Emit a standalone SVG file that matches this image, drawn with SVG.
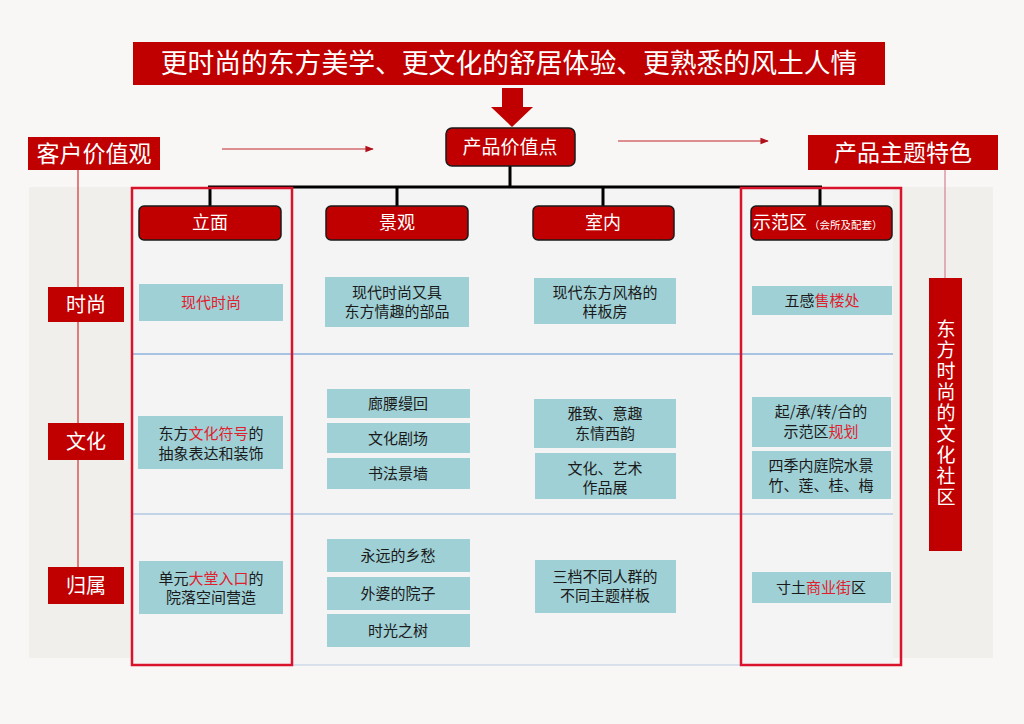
<svg xmlns="http://www.w3.org/2000/svg" width="1024" height="724" viewBox="0 0 1024 724">
<defs>
<style>
text{font-family:"Noto Sans CJK SC","Noto Sans",sans-serif;}
.red{fill:#c00000;}
.w{fill:#ffffff;text-anchor:middle;}
.hdr{fill:#c00000;stroke:#1a1a1a;stroke-width:1.5;}
.cell{fill:#9fd0d5;}
.ct{fill:#1a1a1a;font-size:15px;text-anchor:middle;}
.hl{fill:#e0202e;}
.outline{fill:none;stroke:#d9132b;stroke-width:2.5;}
.conn{fill:none;stroke:#000;stroke-width:3;}
.thin{fill:none;stroke:#c0272d;stroke-width:1.2;}
</style>
<marker id="ah" viewBox="0 0 10 10" refX="9" refY="5" markerWidth="7" markerHeight="7" orient="auto">
<path d="M0,1 L10,5 L0,9 z" fill="#b0101a"/>
</marker>
</defs>
<rect x="0" y="0" width="1024" height="724" fill="#f8f7f5"/>
<rect x="29" y="187" width="964" height="471" fill="#f1efeb"/>
<rect x="131" y="188" width="762" height="477" fill="#f4f4f4"/>
<!-- row separators -->
<g id="separators">
<line x1="131" y1="354" x2="893" y2="354" stroke="#5b8fd0" stroke-width="1.2"/>
<line x1="131" y1="514" x2="893" y2="514" stroke="#8fb2dc" stroke-width="1.2"/>
<line x1="131" y1="665" x2="893" y2="665" stroke="#b8cce4" stroke-width="1.2"/>
</g>
<!-- title -->
<g id="title">
<rect x="133" y="42" width="752" height="43" class="red"/>
<text x="509" y="73" class="w" font-size="26.8">更时尚的东方美学、更文化的舒居体验、更熟悉的风土人情</text>
</g>
<g id="bigarrow">
<path d="M502,88 L523,88 L523,107 L533,107 L512,127 L491,107 L502,107 z" fill="#c00000"/>
</g>
<g id="connectors">
<line x1="222" y1="149" x2="373" y2="149" class="thin" marker-end="url(#ah)"/>
<line x1="618" y1="141" x2="768" y2="141" class="thin" marker-end="url(#ah)"/>
<line x1="78" y1="170" x2="78" y2="567" stroke="#d03030" stroke-width="1.2"/>
<line x1="945" y1="170" x2="945" y2="278" stroke="#d88090" stroke-width="1.2"/>
<path d="M510,166 L510,187 M208,187 L822,187 M210,187 L210,206 M397,187 L397,206 M603,187 L603,206 M820,187 L820,206" class="conn"/>
</g>
<g id="value-point">
<rect x="446" y="128" width="129" height="38" rx="6" class="hdr"/>
<text x="510" y="154" class="w" font-size="19">产品价值点</text>
</g>
<g id="customer">
<rect x="28" y="137" width="132" height="33" class="red"/>
<text x="94" y="162" class="w" font-size="23">客户价值观</text>
</g>
<g id="theme">
<rect x="808" y="135" width="190" height="35" class="red"/>
<text x="903" y="161" class="w" font-size="23">产品主题特色</text>
</g>
<!-- column headers -->
<g id="h-limian"><rect x="139" y="206" width="142" height="34" rx="5" class="hdr"/><text x="210" y="229" class="w" font-size="18">立面</text></g>
<g id="h-jingguan"><rect x="326" y="206" width="142" height="34" rx="5" class="hdr"/><text x="397" y="229" class="w" font-size="18">景观</text></g>
<g id="h-shinei"><rect x="533" y="206" width="141" height="34" rx="5" class="hdr"/><text x="603" y="229" class="w" font-size="18">室内</text></g>
<g id="h-shifan"><rect x="751" y="206" width="141" height="34" rx="5" class="hdr"/><text x="753" y="229" fill="#fff" font-size="18">示范区<tspan font-size="10.5" dx="2">（会所及配套）</tspan></text></g>
<!-- row labels -->
<g id="r-shishang"><rect x="48" y="287" width="76" height="35" class="red"/><text x="86" y="312" class="w" font-size="20">时尚</text></g>
<g id="r-wenhua"><rect x="48" y="423" width="76" height="37" class="red"/><text x="86" y="449" class="w" font-size="20">文化</text></g>
<g id="r-guishu"><rect x="48" y="567" width="76" height="37" class="red"/><text x="86" y="593" class="w" font-size="20">归属</text></g>
<!-- right vertical -->
<g id="community">
<rect x="929" y="278" width="33" height="273" class="red"/>
<text x="946" y="319" fill="#fff" font-size="19" letter-spacing="2" style="writing-mode:vertical-rl">东方时尚的文化社区</text>
</g>
<!-- outlines -->
<g id="outline-left"><rect x="132" y="188" width="160" height="477" class="outline"/></g>
<g id="outline-right"><rect x="741" y="188" width="160" height="477" class="outline"/></g>
<!-- row 1 cells -->
<g id="c11"><rect x="139" y="284" width="144" height="37" class="cell"/><text x="211" y="308" class="ct hl">现代时尚</text></g>
<g id="c12"><rect x="325" y="277" width="144" height="50" class="cell"/><text x="397" y="298" class="ct">现代时尚又具</text><text x="397" y="317" class="ct">东方情趣的部品</text></g>
<g id="c13"><rect x="534" y="278" width="142" height="46" class="cell"/><text x="605" y="298" class="ct">现代东方风格的</text><text x="605" y="317" class="ct">样板房</text></g>
<g id="c14"><rect x="752" y="286" width="140" height="29" class="cell"/><text x="822" y="306" class="ct">五感<tspan class="hl">售楼处</tspan></text></g>
<!-- row 2 cells -->
<g id="c21"><rect x="138" y="416" width="145" height="53" class="cell"/><text x="211" y="439" class="ct">东方<tspan class="hl">文化符号</tspan>的</text><text x="211" y="459" class="ct">抽象表达和装饰</text></g>
<g id="c22a"><rect x="327" y="389" width="143" height="29" class="cell"/><text x="398" y="409" class="ct">廊腰缦回</text></g>
<g id="c22b"><rect x="327" y="423" width="143" height="30" class="cell"/><text x="398" y="444" class="ct">文化剧场</text></g>
<g id="c22c"><rect x="327" y="458" width="143" height="31" class="cell"/><text x="398" y="479" class="ct">书法景墙</text></g>
<g id="c23a"><rect x="534" y="399" width="142" height="49" class="cell"/><text x="605" y="419" class="ct">雅致、意趣</text><text x="605" y="439" class="ct">东情西韵</text></g>
<g id="c23b"><rect x="535" y="453" width="141" height="46" class="cell"/><text x="605" y="474" class="ct">文化、艺术</text><text x="605" y="493" class="ct">作品展</text></g>
<g id="c24a"><rect x="752" y="397" width="139" height="50" class="cell"/><text x="821" y="417" class="ct">起/承/转/合的</text><text x="821" y="437" class="ct">示范区<tspan class="hl">规划</tspan></text></g>
<g id="c24b"><rect x="752" y="451" width="139" height="48" class="cell"/><text x="821" y="471" class="ct">四季内庭院水景</text><text x="821" y="491" class="ct">竹、莲、桂、梅</text></g>
<!-- row 3 cells -->
<g id="c31"><rect x="139" y="561" width="144" height="53" class="cell"/><text x="211" y="584" class="ct">单元<tspan class="hl">大堂入口</tspan>的</text><text x="211" y="603" class="ct">院落空间营造</text></g>
<g id="c32a"><rect x="327" y="539" width="143" height="33" class="cell"/><text x="398" y="561" class="ct">永远的乡愁</text></g>
<g id="c32b"><rect x="327" y="577" width="143" height="33" class="cell"/><text x="398" y="599" class="ct">外婆的院子</text></g>
<g id="c32c"><rect x="327" y="614" width="143" height="33" class="cell"/><text x="398" y="636" class="ct">时光之树</text></g>
<g id="c33"><rect x="535" y="560" width="141" height="53" class="cell"/><text x="605" y="582" class="ct">三档不同人群的</text><text x="605" y="601" class="ct">不同主题样板</text></g>
<g id="c34"><rect x="752" y="572" width="139" height="31" class="cell"/><text x="821" y="593" class="ct">寸土<tspan class="hl">商业街</tspan>区</text></g>
</svg>
